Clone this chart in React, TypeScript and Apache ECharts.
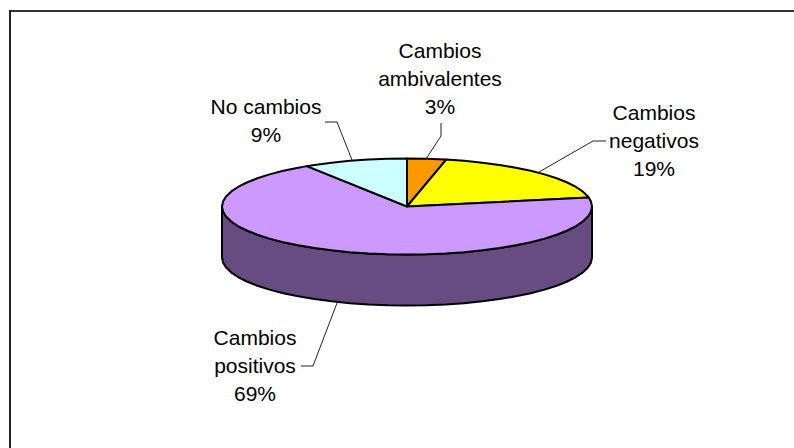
import React, { useEffect, useRef } from "react";
import * as echarts from "echarts";

const categories = ["Cambios\nambivalentes", "Cambios\nnegativos", "Cambios\npositivos", "No cambios"];
const values = [3.4, 18.6, 68.9, 9.1];
const topColors = ["#FF9900", "#FFFF00", "#CC99FF", "#CCFFFF"];
const wallColors = ["#804C00", "#808000", "#664C80", "#668080"];

const CX = 407;
const CY = 206.5;
const RX = 185;
const RY = 48;
const DEPTH = 51;
const STEP = 6;

const labelBoxes = [
  { x: 440, y: 78, leader: [[441, 123], [441, 136], [426, 159]] },
  { x: 654, y: 140, leader: [[606, 141], [593, 141], [539, 172]] },
  { x: 255, y: 365, leader: [[301, 366], [313, 366], [337, 303]] },
  { x: 266, y: 120, leader: [[325, 122], [337, 122], [352, 160]] },
];

const total = values.reduce((a, b) => a + b, 0);

function rim(deg: number, dy = 0): number[] {
  const r = (deg * Math.PI) / 180;
  return [CX + RX * Math.sin(r), CY - RY * Math.cos(r) + dy];
}

function arc(a: number, b: number, dy = 0): number[][] {
  const pts: number[][] = [];
  const first = Math.ceil(a / STEP) * STEP;
  pts.push(rim(a, dy));
  for (let d = first; d < b; d += STEP) if (d > a) pts.push(rim(d, dy));
  pts.push(rim(b, dy));
  return pts;
}

function renderItem(params: any, api: any) {
  const i = params.dataIndex;
  const v = api.value(0);
  let before = 0;
  for (let k = 0; k < i; k++) before += values[k];
  const a = (before / total) * 360;
  const b = ((before + v) / total) * 360;
  const children: any[] = [];
  const stroke = { stroke: "#000", lineWidth: 2, lineJoin: "round" };
  const wa = Math.max(a, 90);
  const wb = Math.min(b, 270);
  if (wb > wa) {
    const top = arc(wa, wb);
    const bottom = arc(wa, wb, DEPTH).reverse();
    children.push({
      type: "polygon",
      shape: { points: top.concat(bottom) },
      style: { fill: wallColors[i], ...stroke },
    });
  }
  children.push({
    type: "polygon",
    shape: { points: [[CX, CY], ...arc(a, b)] },
    style: { fill: topColors[i], ...stroke },
  });
  const box = labelBoxes[i];
  children.push({
    type: "polyline",
    shape: { points: box.leader },
    style: { fill: "none", stroke: "#222", lineWidth: 1 },
  });
  children.push({
    type: "text",
    x: box.x,
    y: box.y,
    style: {
      text: `${categories[i]}\n${Math.round((v / total) * 100)}%`,
      fill: "#000",
      font: '21px "Liberation Sans", Arial, sans-serif',
      lineHeight: 28,
      align: "center",
      verticalAlign: "middle",
    },
  });
  return { type: "group", children };
}

export default function App() {
  const ref = useRef<HTMLDivElement>(null);
  useEffect(() => {
    document.body.style.margin = "0";
    const chart = echarts.init(ref.current!, null, { renderer: "svg" });
    chart.setOption({
      animation: false,
      backgroundColor: "#fff",
      graphic: [
        { type: "line", shape: { x1: 10, y1: 11, x2: 794, y2: 11 }, style: { stroke: "#333", lineWidth: 2 } },
        { type: "line", shape: { x1: 10, y1: 10, x2: 10, y2: 448 }, style: { stroke: "#222", lineWidth: 2 } },
      ],
      series: [
        {
          type: "custom",
          coordinateSystem: "none",
          silent: true,
          renderItem,
          data: values.map((v) => [v]),
        },
      ],
    });
    return () => chart.dispose();
  }, []);
  return <div ref={ref} style={{ width: 794, height: 448 }} />;
}
